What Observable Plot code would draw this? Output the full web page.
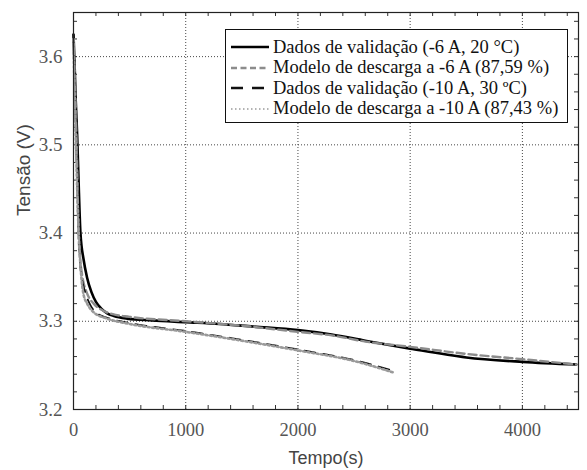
<!DOCTYPE html>
<html><head><meta charset="utf-8">
<script src="https://cdn.jsdelivr.net/npm/d3@7"></script>
<script src="https://cdn.jsdelivr.net/npm/@observablehq/plot@0.6"></script>
<style>
body{margin:0;background:#fff}
#wrap{position:relative;width:587px;height:470px}
#legend{position:absolute;left:225px;top:29px;width:343px;height:94px;border:1px solid #111;background:#fff;font-family:"Liberation Serif","Times New Roman","DejaVu Serif",serif;font-size:18.5px;color:#111;padding-top:7px;box-sizing:border-box}
.row{display:flex;align-items:center;height:20.5px;white-space:nowrap}
.row svg{margin-left:4px;margin-right:3px;flex:none}
</style></head><body><div id="wrap"></div>
<script>
// Series 1: Dados de validação (-6 A, 20 °C)
const tempo1  = [0, 10, 20, 33, 45, 62, 90, 120, 160, 200, 250, 300, 360, 480, 700, 1000, 1300, 1600, 2000, 2300, 2600, 3000, 3500, 4000, 4480];
const tensao1 = [3.625, 3.59, 3.55, 3.51, 3.46, 3.40, 3.37, 3.35, 3.333, 3.322, 3.314, 3.309, 3.306, 3.303, 3.301, 3.299, 3.297, 3.294, 3.290, 3.285, 3.278, 3.269, 3.259, 3.254, 3.251];
// Series 2: Modelo de descarga a -6 A (87,59 %)
const tempo2  = [0, 10, 20, 30, 45, 60, 80, 120, 180, 250, 350, 500, 1000, 1500, 2000, 2300, 2600, 3000, 3500, 4000, 4480];
const tensao2 = [3.62, 3.58, 3.54, 3.49, 3.40, 3.37, 3.35, 3.332, 3.32, 3.313, 3.308, 3.305, 3.300, 3.295, 3.288, 3.284, 3.277, 3.271, 3.263, 3.257, 3.251];
// Series 3: Dados de validação (-10 A, 30 ºC)
const tempo3  = [0, 10, 20, 30, 47, 62, 80, 107, 152, 200, 300, 500, 1000, 1500, 2000, 2500, 2850];
const tensao3 = [3.625, 3.57, 3.52, 3.47, 3.40, 3.361, 3.345, 3.332, 3.318, 3.31, 3.304, 3.298, 3.289, 3.279, 3.268, 3.256, 3.244];
// Series 4: Modelo de descarga a -10 A (87,43 %)
const tempo4  = [0, 10, 20, 35, 50, 70, 90, 122, 181, 300, 500, 1000, 1500, 2000, 2500, 2850];
const tensao4 = [3.62, 3.56, 3.51, 3.44, 3.39, 3.35, 3.33, 3.32, 3.31, 3.303, 3.297, 3.288, 3.278, 3.267, 3.255, 3.242];

const legendLabels = ["Dados de validação (-6 A, 20 °C)", "Modelo de descarga a -6 A (87,59 %)", "Dados de validação (-10 A, 30 ºC)", "Modelo de descarga a -10 A (87,43 %)"];
const xTicks = [0, 1000, 2000, 3000, 4000];
const yTicks = [3.2, 3.3, 3.4, 3.5, 3.6];
const xMinor = d3.range(0, 4501, 200);
const yMinor = d3.range(0, 23).map(i => +(3.2 + i * 0.02).toFixed(2));

const styles = [
  {stroke: "#000", strokeWidth: 2.6, dash: null, legendDash: null},
  {stroke: "#8c8c8c", strokeWidth: 2.4, dash: "8,4", legendDash: "6,3.5"},
  {stroke: "#111", strokeWidth: 1.8, dash: "11,8", legendDash: "12,9"},
  {stroke: "#9a9a9a", strokeWidth: 2.6, dash: "2,2.5", legendDash: "1.5,2.5"}
];
const series = [[tempo1, tensao1], [tempo2, tensao2], [tempo3, tensao3], [tempo4, tensao4]];

const W = 587, H = 470, mL = 73, mR = 9, mT = 12, mB = 61;
const pw = W - mL - mR, ph = H - mT - mB;
const serif = "Liberation Serif, Times New Roman, DejaVu Serif, serif";
const sans = "Liberation Sans, Arial, sans-serif";

const chart = Plot.plot({
  width: W, height: H,
  marginLeft: mL, marginRight: mR, marginTop: mT, marginBottom: mB,
  style: {background: "#fff"},
  x: {domain: [0, 4500]},
  y: {domain: [3.2, 3.65]},
  marks: [
    Plot.gridX(xTicks.slice(1), {stroke: "#333", strokeOpacity: 0.9, strokeDasharray: "1,2"}),
    Plot.gridY(yTicks.slice(1), {stroke: "#333", strokeOpacity: 0.9, strokeDasharray: "1,2"}),
    Plot.tickX(xMinor, {x: d => d, insetTop: ph - 4, stroke: "#333"}),
    Plot.tickX(xMinor, {x: d => d, insetBottom: ph - 4, stroke: "#333"}),
    Plot.tickY(yMinor, {y: d => d, insetRight: pw - 4, stroke: "#333"}),
    Plot.tickY(yMinor, {y: d => d, insetLeft: pw - 4, stroke: "#333"}),
    ...series.map(([t, v], i) => Plot.line(t, {x: t, y: v, stroke: styles[i].stroke, strokeWidth: styles[i].strokeWidth, strokeDasharray: styles[i].dash, curve: "monotone-x"})),
    Plot.frame({stroke: "#222", strokeWidth: 1.2}),
    Plot.axisX(xTicks, {tickSize: 0, tickPadding: 13, fontSize: 18.5, fontFamily: serif, fill: "#555", tickFormat: d => String(d), label: null}),
    Plot.axisY(yTicks, {tickSize: 0, tickPadding: 11, fontSize: 19, fontFamily: serif, fill: "#555", tickFormat: d => d.toFixed(1), label: null}),
    Plot.text(["Tempo(s)"], {frameAnchor: "bottom", dy: 54, fontSize: 18, fontFamily: sans, fill: "#444", text: d => d}),
    Plot.text(["Tensão (V)"], {frameAnchor: "left", dx: -50, dy: 5, rotate: -90, fontSize: 19, fontFamily: sans, fill: "#444", text: d => d})
  ]
});
const wrap = document.getElementById("wrap");
wrap.appendChild(chart);

const legend = document.createElement("div");
legend.id = "legend";
legendLabels.forEach((lab, i) => {
  const row = document.createElement("div");
  row.className = "row";
  const s = styles[i];
  const sw = i === 2 ? 2.6 : (i === 3 ? 1.6 : s.strokeWidth);
  row.innerHTML = `<svg width="40" height="10"><line x1="1" x2="39" y1="5" y2="5" stroke="${s.stroke}" stroke-width="${sw}" ${s.legendDash ? `stroke-dasharray="${s.legendDash}"` : ""}/></svg><span>${lab}</span>`;
  legend.appendChild(row);
});
wrap.appendChild(legend);
</script>
</body></html>
